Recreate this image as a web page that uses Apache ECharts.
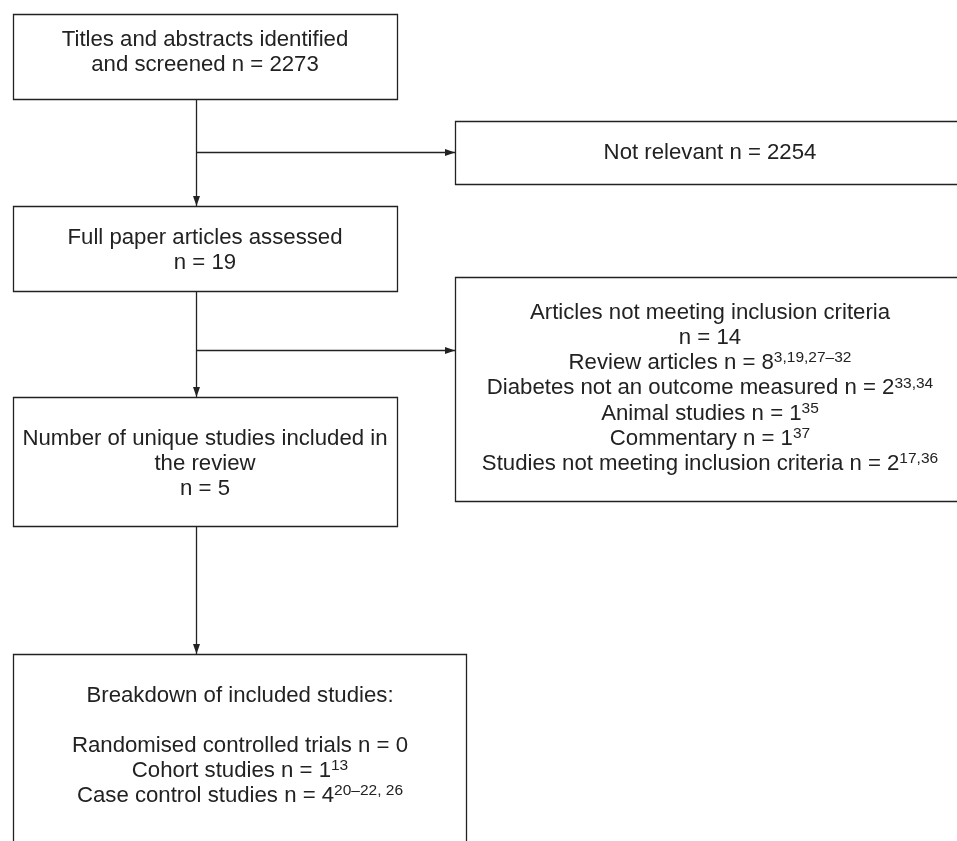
<!DOCTYPE html>
<html><head><meta charset="utf-8">
<script src="https://cdn.jsdelivr.net/npm/echarts@6/dist/echarts.min.js"></script>
<style>html,body{margin:0;padding:0;background:#fff}#c{width:957px;height:841px}</style>
</head><body><div id="c"></div>
<script>
const counts = {screened: 2273, notRelevant: 2254, fullPaper: 19, excluded: 14, included: 5};
const exclusionLabels = ['Review articles', 'Diabetes not an outcome measured', 'Animal studies', 'Commentary', 'Studies not meeting inclusion criteria'];
const exclusionCounts = [8, 2, 1, 1, 2];
const exclusionRefs = ['3,19,27\u201332', '33,34', '35', '37', '17,36'];
const designLabels = ['Randomised controlled trials', 'Cohort studies', 'Case control studies'];
const designCounts = [0, 1, 4];
const designRefs = ['', '13', '20\u201322, 26'];

const chart = echarts.init(document.getElementById('c'));
const F = '"Liberation Sans", Arial, sans-serif';
const FS = 22.2;
const C = '#222';
const g = [];
function box(x, y, w, h) {
  g.push({type:'rect', shape:{x:x+0.5,y:y+0.5,width:w,height:h}, style:{fill:'#fff', stroke:C, lineWidth:1.3}});
}
function line(x1,y1,x2,y2){ g.push({type:'line', shape:{x1,y1,x2,y2}, style:{stroke:C, lineWidth:1.3}}); }
function arrowDown(x,y){ g.push({type:'polygon', shape:{points:[[x-3.5,y-10],[x+3.5,y-10],[x,y]]}, style:{fill:C}}); }
function arrowRight(x,y){ g.push({type:'polygon', shape:{points:[[x-10,y-3.5],[x-10,y+3.5],[x,y]]}, style:{fill:C}}); }
const rich = {n:{fontSize:FS, fontFamily:F, fill:C}, s:{fontSize:15.5, fontFamily:F, fill:C, padding:[0,0,10,0]}};
function txt(x, y, str) {
  g.push({type:'text', x, y, style:{text:str, rich, font: FS+'px '+F, fill:C, align:'center', verticalAlign:'middle'}});
}
function ln(label, n, ref) { return '{n|' + label + ' n = ' + n + '}' + (ref ? '{s|' + ref + '}' : ''); }

const LX = 13, LW = 384, CX = 205, RX = 455, RW = 510, RC = 710;
box(LX, 14, LW, 85);
txt(CX, 40, '{n|Titles and abstracts identified}');
txt(CX, 65, '{n|and screened n = ' + counts.screened + '}');
box(RX, 121, RW, 63);
txt(RC, 153, '{n|Not relevant n = ' + counts.notRelevant + '}');
box(LX, 206, LW, 85);
txt(CX, 238, '{n|Full paper articles assessed}');
txt(CX, 263, '{n|n = ' + counts.fullPaper + '}');
box(RX, 277, RW, 224);
txt(RC, 313, '{n|Articles not meeting inclusion criteria}');
txt(RC, 338, '{n|n = ' + counts.excluded + '}');
exclusionLabels.forEach((l,i)=> txt(RC, 363 + i*25.3, ln(l, exclusionCounts[i], exclusionRefs[i])));
box(LX, 397, LW, 129);
txt(CX, 439, '{n|Number of unique studies included in}');
txt(CX, 464, '{n|the review}');
txt(CX, 489, '{n|n = ' + counts.included + '}');
box(LX, 654, 453, 200);
txt(240, 696, '{n|Breakdown of included studies:}');
designLabels.forEach((l,i)=> txt(240, 746 + i*25, ln(l, designCounts[i], designRefs[i])));

const VX = 196.5;
line(VX,99,VX,206); arrowDown(VX,206);
line(VX,152.5,455,152.5); arrowRight(455,152.5);
line(VX,291,VX,397); arrowDown(VX,397);
line(VX,350.5,455,350.5); arrowRight(455,350.5);
line(VX,526,VX,654); arrowDown(VX,654);

chart.setOption({graphic:{elements:g}});
</script></body></html>
